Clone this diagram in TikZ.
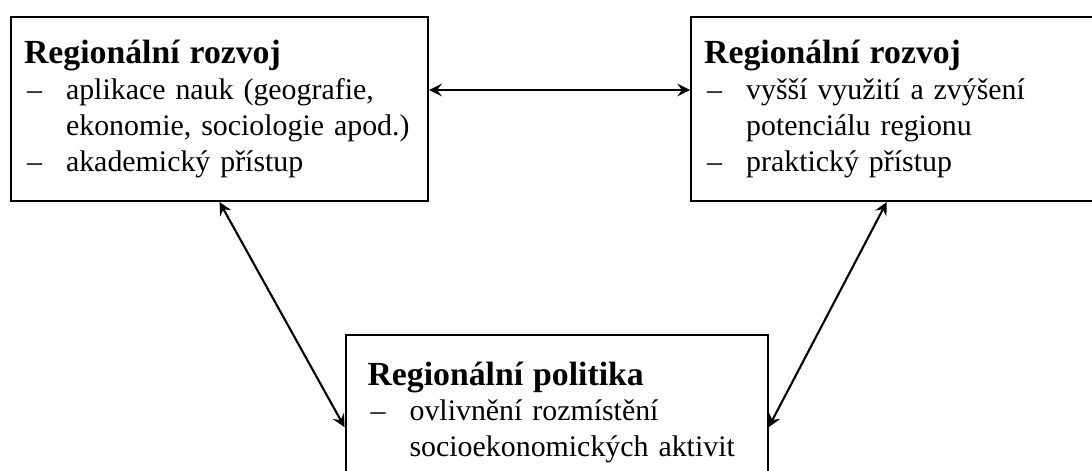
\documentclass[tikz,border=0pt]{standalone}
\usepackage{fontspec}
\setmainfont{Liberation Serif}
\usetikzlibrary{positioning, calc}

\newcommand{\itm}{\hspace*{0.03cm}\makebox[0.39cm][l]{--}}
\newcommand{\cont}{\hspace*{0.42cm}}
\newcommand{\boxtitle}[1]{{\fontsize{9.6}{10.2}\selectfont\bfseries #1}}

\begin{document}
\begin{tikzpicture}[
    node distance=2.61cm,
    box/.style={
        draw,
        rectangle,
        semithick,
        align=left,
        text width=3.91cm,
        inner xsep=0.13cm,
        minimum height=1.84cm,
        font=\fontsize{8.5}{10.2}\selectfont
    },
    arrow/.style={<->, >=stealth, semithick}
]
\path[use as bounding box, clip] (0,0) rectangle (10.92,-4.71);

% Regional development - theory and practice
\node[box, anchor=north west] (devtheory) at (0.10,-0.16) {\boxtitle{Regionální rozvoj}\\
    \itm aplikace nauk (geografie,\\
    \cont ekonomie, sociologie apod.)\\
    \itm akademický přístup};
\node[box, right=of devtheory] (devpractice) {\boxtitle{Regionální rozvoj}\\
    \itm vyšší využití a zvýšení\\
    \cont potenciálu regionu\\
    \itm praktický přístup};

% Regional policy - centred below
\node[box, anchor=north, text width=3.78cm, inner xsep=0.22cm] (policy)
    at ($(devtheory.south)!0.5!(devpractice.south)+(-0.03,-1.32)$) {\boxtitle{Regionální politika}\\
    \itm ovlivnění rozmístění\\
    \cont socioekonomických aktivit\\
    \mbox{}};

% Links
\draw[arrow] ([yshift=0.19cm]devtheory.east) -- ([yshift=0.19cm]devpractice.west);
\draw[arrow] (devtheory.south) -- (policy.west);
\draw[arrow] ([xshift=-0.13cm]devpractice.south) -- (policy.east);

\end{tikzpicture}
\end{document}
